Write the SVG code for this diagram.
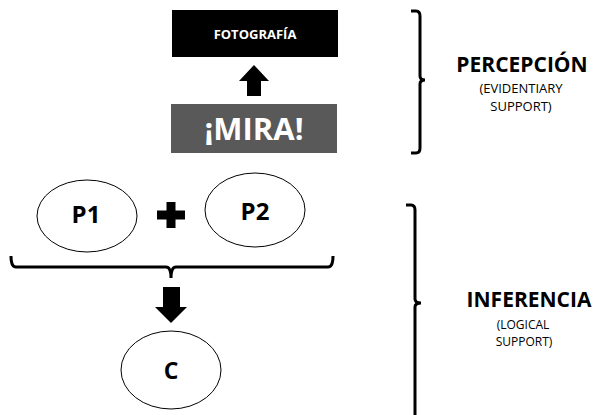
<svg xmlns="http://www.w3.org/2000/svg" width="594" height="415" viewBox="0 0 594 415">
<style>
text{font-family:"Open Sans","Liberation Sans",sans-serif;text-anchor:middle}
.b{font-weight:bold}
.ell{fill:#fff;stroke:#000;stroke-width:1}
.br{fill:none;stroke:#000;stroke-width:3}
.arr{fill:#000}
</style>
<rect width="594" height="415" fill="#fff"/>
<g id="fotografia">
<rect x="172" y="10" width="166" height="47" fill="#000"/>
<text x="255" y="39" class="b" font-size="13" fill="#fff">FOTOGRAFÍA</text>
</g>
<g id="mira">
<rect x="171" y="104" width="166" height="49" fill="#595959"/>
<text x="254" y="140" class="b" font-size="31" fill="#fff">¡MIRA!</text>
</g>
<g id="p1">
<ellipse cx="87" cy="216" rx="50" ry="36" class="ell"/>
<text x="86" y="223" class="b" font-size="24">P1</text>
</g>
<g id="p2">
<ellipse cx="255" cy="210" rx="50" ry="37" class="ell"/>
<text x="255" y="220" class="b" font-size="24">P2</text>
</g>
<g id="plus">
<rect x="157" y="210.5" width="28" height="9" class="arr"/>
<rect x="166.5" y="202" width="9" height="26" class="arr"/>
</g>
<g id="c">
<ellipse cx="171" cy="370" rx="50" ry="39" class="ell"/>
<text x="171" y="379" class="b" font-size="23">C</text>
</g>
<g id="percepcion">
<text x="522" y="72" class="b" font-size="21">PERCEPCIÓN</text>
<text x="521" y="93" font-size="13">(EVIDENTIARY</text>
<text x="521" y="111" font-size="13">SUPPORT)</text>
</g>
<g id="inferencia">
<text x="529" y="307" class="b" font-size="21">INFERENCIA</text>
<text x="523" y="329" font-size="12">(LOGICAL</text>
<text x="524" y="346" font-size="12">SUPPORT)</text>
</g>
<g id="connectors">
<polygon class="arr" points="254,65 269,81 261,81 261,96 247,96 247,81 239,81"/>
<polygon class="arr" points="171,323 187,307 180,307 180,287 163,287 163,307 155,307"/>
<path class="br" d="M11,256 Q11,267 16,267 L166,267 Q171,267 171,278 Q171,267 176,267 L328,267 Q333,267 333,256" stroke-width="2"/>
<path class="br" d="M411,11 L416,11 Q420,11 420,16 L420,76 Q420,80 425,80 Q420,80 420,84 L420,148 Q420,153 416,153 L411,153"/>
<path class="br" d="M406,205 L411,205 Q415,205 415,210 L415,299 Q415,303 421,303 Q415,303 415,307 L415,415"/>
</g>
</svg>
